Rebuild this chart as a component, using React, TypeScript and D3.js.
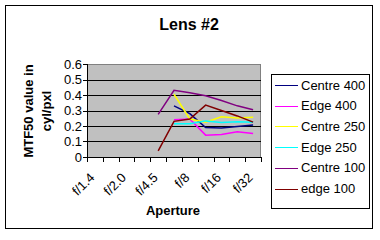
import React from "react";
import * as d3 from "d3";

const categories = ["f/1.4", "f/1.8", "f/2.0", "f/2.8", "f/4.5", "f/5.6", "f/8", "f/11", "f/16", "f/22", "f/32"];
const shownLabels = ["f/1.4", "f/2.0", "f/4.5", "f/8", "f/16", "f/32"];
const yTicks = [0, 0.1, 0.2, 0.3, 0.4, 0.5, 0.6];

const centre400 = [null, null, null, null, null, 0.33, 0.28, 0.19, 0.187, 0.197, 0.206];
const edge400 = [null, null, null, null, null, 0.24, 0.245, 0.141, 0.145, 0.163, 0.152];
const centre250 = [null, null, null, null, null, 0.405, 0.245, 0.225, 0.26, 0.252, 0.256];
const edge250 = [null, null, null, null, null, 0.215, 0.215, 0.233, 0.222, 0.228, 0.224];
const centre100 = [null, null, null, null, 0.275, 0.43, 0.415, 0.395, 0.365, 0.33, 0.305];
const edge100 = [null, null, null, null, 0.04, 0.23, 0.245, 0.335, 0.3, 0.265, 0.225];

const seriesNames = ["Centre 400", "Edge 400", "Centre 250", "Edge 250", "Centre 100", "edge 100"];
const seriesColors = ["#000080", "#FF00FF", "#FFFF00", "#00FFFF", "#800080", "#800000"];
const seriesValues = [centre400, edge400, centre250, edge250, centre100, edge100];

const FONT = "Arial, 'Liberation Sans', sans-serif";

export default function App() {
  const left = 87, right = 261, top = 64, bottom = 157;
  const x = d3.scaleBand<string>().domain(categories).range([left, right]).padding(0);
  const y = d3.scaleLinear().domain([0, 0.6]).range([bottom, top]);
  const cx = (c: string) => (x(c) as number) + x.bandwidth() / 2;

  const line = d3
    .line<number | null>()
    .defined((d) => d != null)
    .x((_, i) => cx(categories[i]))
    .y((d) => y(d as number));

  const boundaries = categories.map((c) => x(c) as number).concat([right]);

  return (
    <svg width={380} height={240} style={{ position: "absolute", left: 0, top: 0, background: "#fff" }}>
      <rect x={5.5} y={5.5} width={367} height={223} fill="#fff" stroke="#000" strokeWidth={1} />
      <text x={189} y={30} textAnchor="middle" fontFamily={FONT} fontWeight="bold" fontSize={16}>
        Lens #2
      </text>
      {/* plot area */}
      <rect x={left + 0.5} y={top + 0.5} width={right - left - 1} height={bottom - top} fill="#C0C0C0" stroke="#808080" strokeWidth={1} />
      {yTicks.filter((t) => t > 0 && t < 0.6).map((t) => (
        <line key={t} x1={left} x2={right} y1={Math.round(y(t)) + 0.5} y2={Math.round(y(t)) + 0.5} stroke="#000" strokeWidth={1} />
      ))}
      {/* series */}
      {seriesValues.map((vals, i) => (
        <path key={i} d={line(vals) || ""} fill="none" stroke={seriesColors[i]} strokeWidth={1.5} />
      ))}
      {/* y axis */}
      <line x1={left + 0.5} x2={left + 0.5} y1={top} y2={bottom + 0.5} stroke="#000" />
      {yTicks.map((t) => (
        <g key={t}>
          <line x1={left - 4} x2={left} y1={Math.round(y(t)) + 0.5} y2={Math.round(y(t)) + 0.5} stroke="#000" />
          <text x={left - 5} y={y(t)} dy="0.35em" textAnchor="end" fontFamily={FONT} fontSize={13}>
            {d3.format(".1~f")(t)}
          </text>
        </g>
      ))}
      {/* x axis */}
      <line x1={left} x2={right} y1={bottom + 0.5} y2={bottom + 0.5} stroke="#000" />
      {boundaries.map((b, i) => (
        <line key={i} x1={Math.round(b) + 0.5} x2={Math.round(b) + 0.5} y1={bottom} y2={bottom + 5} stroke="#000" />
      ))}
      {shownLabels.map((c) => (
        <text
          key={c}
          transform={`translate(${cx(c) - 6},${bottom + 15}) rotate(-45)`}
          textAnchor="end"
          dy="0.7em"
          fontFamily={FONT}
          fontSize={13}
        >
          {c}
        </text>
      ))}
      <text x={173} y={215} textAnchor="middle" fontFamily={FONT} fontWeight="bold" fontSize={13}>
        Aperture
      </text>
      <text transform={`translate(33,111) rotate(-90)`} textAnchor="middle" fontFamily={FONT} fontWeight="bold" fontSize={13}>
        MTF50 value in
      </text>
      <text transform={`translate(51,111) rotate(-90)`} textAnchor="middle" fontFamily={FONT} fontWeight="bold" fontSize={13}>
        cyl/pxl
      </text>
      {/* legend */}
      <rect x={271.5} y={74.5} width={98} height={134} fill="#fff" stroke="#000" />
      {seriesNames.map((n, i) => {
        const ly = 85 + i * 20.7;
        return (
          <g key={n}>
            <line x1={275} x2={298} y1={Math.round(ly) + 0.5} y2={Math.round(ly) + 0.5} stroke={seriesColors[i]} strokeWidth={1} />
            <text x={301} y={ly} dy="0.35em" fontFamily={FONT} fontSize={13}>
              {n}
            </text>
          </g>
        );
      })}
    </svg>
  );
}
